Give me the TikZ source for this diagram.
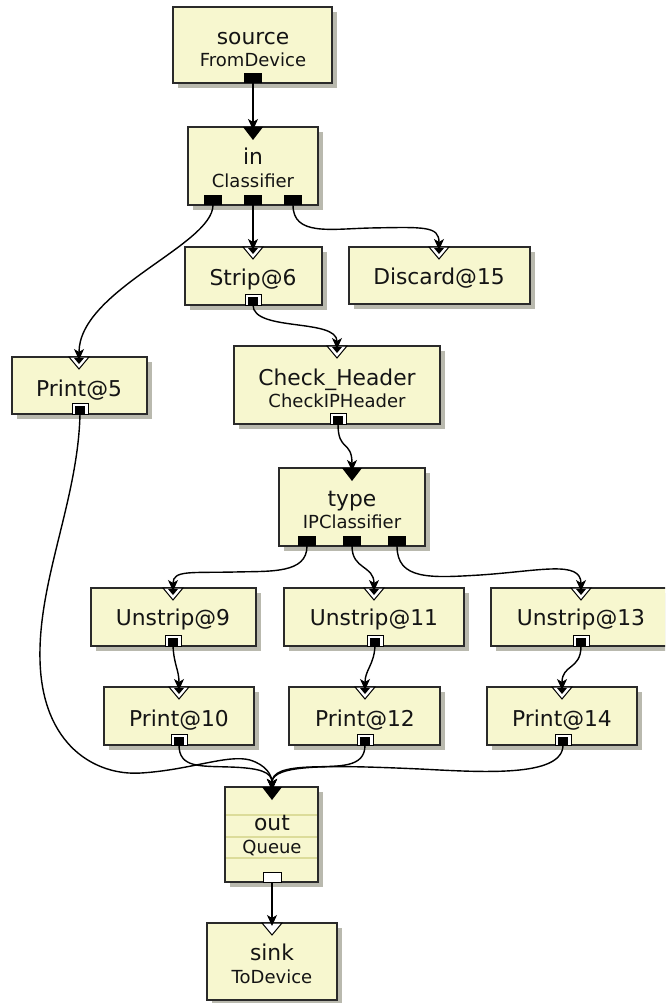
\documentclass[tikz,border=0pt]{standalone}
\usepackage{fontspec}
\setmainfont{DejaVu Sans}
\usetikzlibrary{arrows.meta}

\definecolor{elemfill}{HTML}{F7F7CF}
\definecolor{elemline}{HTML}{2A2A2A}
\definecolor{shadowc}{HTML}{B9B9AE}
\definecolor{queueline}{HTML}{DCDC9A}

\tikzset{
  elem/.style={draw=elemline, line width=1.4pt, fill=elemfill, inner sep=0pt,
    preaction={fill=shadowc, transform canvas={xshift=5pt,yshift=-5pt}}},
  mainlbl/.style={anchor=base, inner sep=0pt, text=black!92, font=\fontsize{21.8}{21.8}\selectfont},
  sublbl/.style={anchor=base, inner sep=0pt, text=black!92, font=\fontsize{18}{18}\selectfont},
  conn/.style={draw=black, line width=1.4pt, -{Stealth[length=11pt,width=10pt,inset=3pt]}},
}

% element box from (left,top) to (right,bottom), in pixel units
\newcommand\elembox[5]{\node[elem, minimum width={#4-#2}, minimum height={#5-#3}] (#1) at ({(#2+#4)/2},{(#3+#5)/2}) {};}
% ports: x position and the box edge they sit on
\newcommand\pushoutport[2]{\fill[black] (#1-9,#2-10) rectangle (#1+9,#2);}
\newcommand\agnoutport[2]{\filldraw[fill=white, draw=black, line width=0.9pt] (#1-8,#2-11) rectangle (#1+8,#2);
  \fill[black] (#1-5,#2-8) rectangle (#1+5,#2);}
\newcommand\pulloutport[2]{\filldraw[fill=white, draw=black, line width=1pt] (#1-9,#2-10) rectangle (#1+9,#2);}
\newcommand\pushinport[2]{\fill[black] (#1-10,#2) -- (#1+10,#2) -- (#1,#2+13) -- cycle;}
\newcommand\agninport[2]{\filldraw[fill=white, draw=black, line width=1pt] (#1-10,#2) -- (#1+10,#2) -- (#1,#2+12) -- cycle;
  \fill[black] (#1-5,#2+1) -- (#1+5,#2+1) -- (#1,#2+7) -- cycle;}
\newcommand\pullinport[2]{\filldraw[fill=white, draw=black, line width=1pt] (#1-10,#2) -- (#1+10,#2) -- (#1,#2+12) -- cycle;}

\begin{document}
\begin{tikzpicture}[x=1pt, y=-1pt]
\useasboundingbox (0,0) rectangle (665,1003);
\clip (0,0) rectangle (665,1003);

% ---- elements ----
\elembox{src}{173}{7}{332}{83}
\elembox{in}{188}{127}{318}{205}
\elembox{strip}{185}{247}{322}{305}
\elembox{discard}{349}{247}{530}{304}
\elembox{printfive}{12}{357}{147}{414}
\elembox{chk}{234}{346}{440}{424}
\elembox{type}{279}{468}{425}{546}
\elembox{unnine}{91}{588}{256}{646}
\elembox{uneleven}{284}{588}{464}{646}
\elembox{unthirteen}{491}{588}{670}{646}
\elembox{pten}{104}{687}{254}{745}
\elembox{ptwelve}{289}{687}{440}{745}
\elembox{pfourteen}{487}{687}{637}{745}
\elembox{out}{225}{787}{318}{882}
\elembox{sink}{207}{923}{337}{1000}

% queue slots
\foreach \yy in {815,837,858}
  \draw[queueline, line width=1.2pt] (226,\yy) -- (317,\yy);

% ---- labels ----
\node[mainlbl] at (253,45) {source};
\node[sublbl]  at (253,67) {FromDevice};
\node[mainlbl] at (253,165) {in};
\node[sublbl]  at (253,187) {Classifier};
\node[mainlbl] at (253,285) {Strip@6};
\node[mainlbl] at (439,284) {Discard@15};
\node[mainlbl] at (79,396) {Print@5};
\node[mainlbl] at (337,385) {Check\_Header};
\node[sublbl]  at (337,407) {CheckIPHeader};
\node[mainlbl] at (352,506) {type};
\node[sublbl]  at (352,528) {IPClassifier};
\node[mainlbl] at (173,625) {Unstrip@9};
\node[mainlbl] at (374,625) {Unstrip@11};
\node[mainlbl] at (581,625) {Unstrip@13};
\node[mainlbl] at (179,726) {Print@10};
\node[mainlbl] at (365,726) {Print@12};
\node[mainlbl] at (562,726) {Print@14};
\node[mainlbl] at (272,830) {out};
\node[sublbl]  at (272,853) {Queue};
\node[mainlbl] at (272,960) {sink};
\node[sublbl]  at (272,983) {ToDevice};

% ---- ports ----
\pushoutport{253}{83}
\pushinport{253}{127}
\pushoutport{213}{205}\pushoutport{253}{205}\pushoutport{293}{205}
\agninport{253}{247}\agnoutport{253}{305}
\agninport{439}{247}
\agninport{79}{357}\agnoutport{80}{414}
\agninport{337}{346}\agnoutport{338}{424}
\pushinport{352}{468}
\pushoutport{307}{546}\pushoutport{352}{546}\pushoutport{397}{546}
\agninport{173}{588}\agnoutport{173}{646}
\agninport{374}{588}\agnoutport{375}{646}
\agninport{581}{588}\agnoutport{581}{646}
\agninport{179}{687}\agnoutport{179}{745}
\agninport{365}{687}\agnoutport{365}{745}
\agninport{562}{687}\agnoutport{563}{745}
\pushinport{272}{787}\pulloutport{272}{882}
\pullinport{272}{923}

% ---- port coordinates ----
\coordinate (src-o) at (253,83);
\coordinate (in-i) at (253,130);
\coordinate (in-o0) at (213,205);
\coordinate (in-o1) at (253,205);
\coordinate (in-o2) at (293,205);
\coordinate (strip-i) at (253,250);
\coordinate (strip-o) at (253,305);
\coordinate (discard-i) at (439,250);
\coordinate (printfive-i) at (79,360);
\coordinate (printfive-o) at (80,414);
\coordinate (chk-i) at (337,349);
\coordinate (chk-o) at (338,424);
\coordinate (type-i) at (352,471);
\coordinate (type-o0) at (307,546);
\coordinate (type-o1) at (352,546);
\coordinate (type-o2) at (397,546);
\coordinate (unnine-i) at (173,591);
\coordinate (unnine-o) at (173,646);
\coordinate (uneleven-i) at (374,591);
\coordinate (uneleven-o) at (375,646);
\coordinate (unthirteen-i) at (581,591);
\coordinate (unthirteen-o) at (581,646);
\coordinate (pten-i) at (179,690);
\coordinate (pten-o) at (179,745);
\coordinate (ptwelve-i) at (365,690);
\coordinate (ptwelve-o) at (365,745);
\coordinate (pfourteen-i) at (562,690);
\coordinate (pfourteen-o) at (563,745);
\coordinate (out-i) at (272,790);
\coordinate (out-o) at (272,882);
\coordinate (sink-i) at (272,926);

% ---- connections ----
\draw[conn] (src-o) -- (in-i);
\draw[conn] (in-o0) .. controls (213,245) and (79,290) .. (printfive-i);
\draw[conn] (in-o1) -- (strip-i);
\draw[conn] (in-o2) .. controls (293,236) and (330,229) .. (370,228) .. controls (425,227) and (439,226) .. (discard-i);
\draw[conn] (strip-o) .. controls (253,332) and (337,318) .. (chk-i);
\draw[conn] (chk-o) .. controls (338,452) and (352,440) .. (type-i);
\draw[conn] (type-o0) .. controls (307,574) and (270,571) .. (235,572) .. controls (190,573) and (173,570) .. (unnine-i);
\draw[conn] (type-o1) .. controls (352,570) and (374,565) .. (uneleven-i);
\draw[conn] (type-o2) .. controls (397,580) and (430,578) .. (480,575) .. controls (540,571) and (581,560) .. (unthirteen-i);
\draw[conn] (unnine-o) .. controls (174,665) and (179,670) .. (pten-i);
\draw[conn] (uneleven-o) .. controls (374,665) and (365,670) .. (ptwelve-i);
\draw[conn] (unthirteen-o) .. controls (581,670) and (562,664) .. (pfourteen-i);
\draw[conn] (printfive-o) .. controls (78,500) and (38,580) .. (40,660)
  .. controls (42,745) and (95,776) .. (141,773)
  .. controls (190,770) and (228,754) .. (250,760)
  .. controls (266,765) and (272,775) .. (out-i);
\draw[conn] (pten-o) .. controls (179,768) and (200,766) .. (230,767) .. controls (260,768) and (272,772) .. (out-i);
\draw[conn] (ptwelve-o) .. controls (365,768) and (340,766) .. (310,767) .. controls (285,768) and (272,772) .. (out-i);
\draw[conn] (pfourteen-o) .. controls (563,778) and (480,772) .. (420,769) .. controls (330,765) and (272,764) .. (out-i);
\draw[conn] (out-o) -- (sink-i);
\end{tikzpicture}
\end{document}
